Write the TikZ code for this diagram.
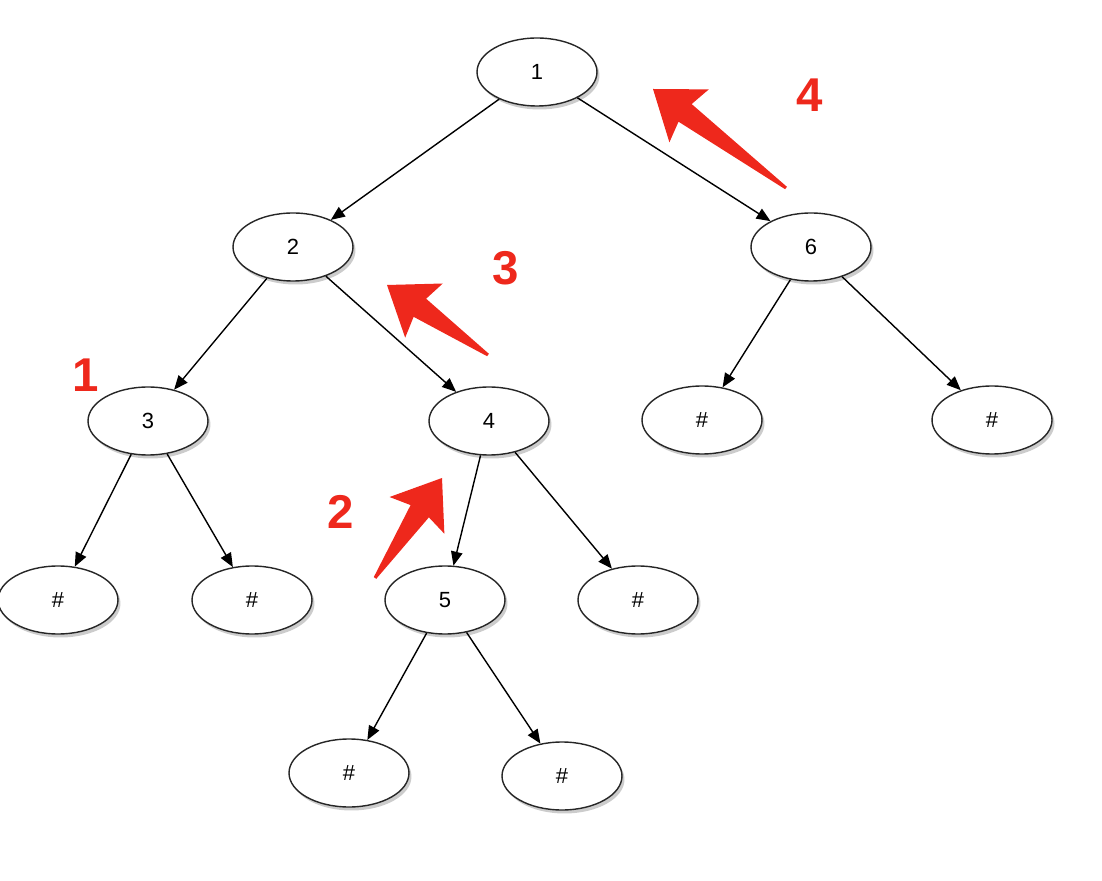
\documentclass[tikz,border=0pt]{standalone}
\usepackage{fontspec}
\setmainfont{Liberation Sans}
\usepackage{xcolor}
\usetikzlibrary{shapes.geometric,arrows.meta,calc,shadows}

\definecolor{markred}{RGB}{238,40,28}

% tapered red pointer from #1 (tail) to #2 (tip)
\newcommand{\redarrow}[2]{%
  \fill[markred] ($(#1)!0.03cm!90:(#2)$) -- ($($(#2)!0.8cm!(#1)$)!0.22cm!90:(#2)$)
    -- ($($(#2)!0.9cm!(#1)$)!0.66cm!90:(#2)$) -- (#2)
    -- ($($(#2)!0.9cm!(#1)$)!0.66cm!-90:(#2)$) -- ($($(#2)!0.8cm!(#1)$)!0.22cm!-90:(#2)$)
    -- ($(#1)!0.03cm!-90:(#2)$) -- cycle;}

\begin{document}
\begin{tikzpicture}[x=0.02cm, y=-0.02cm,
    tnode/.style={ellipse, draw=black!85, thick, fill=white, minimum width=2.4cm, minimum height=1.36cm,
      font=\fontsize{12.5}{14}\selectfont, drop shadow={opacity=0.4, shadow xshift=0.05cm, shadow yshift=-0.07cm}},
    edge/.style={-{Triangle[length=2.8mm, width=2.3mm]}, thick},
    marknum/.style={text=markred, font=\fontsize{27}{30}\selectfont\bfseries}
  ]
    \useasboundingbox (0,0) rectangle (1102,881);

    \node[tnode] (n1) at (537,72) {1};
    \node[tnode] (n2) at (293,247) {2};
    \node[tnode] (n6) at (811,247) {6};
    \node[tnode] (n3) at (148,421) {3};
    \node[tnode] (n4) at (489,421) {4};
    \node[tnode] (h61) at (702,420) {\#};
    \node[tnode] (h62) at (992,420) {\#};
    \node[tnode] (h31) at (58,600) {\#};
    \node[tnode] (h32) at (252,600) {\#};
    \node[tnode] (n5) at (445,600) {5};
    \node[tnode] (h42) at (638,600) {\#};
    \node[tnode] (h51) at (349,773) {\#};
    \node[tnode] (h52) at (562,776) {\#};

    \draw[edge] (n1) -- (n2);
    \draw[edge] (n1) -- (n6);
    \draw[edge] (n2) -- (n3);
    \draw[edge] (n2) -- (n4);
    \draw[edge] (n6) -- (h61);
    \draw[edge] (n6) -- (h62);
    \draw[edge] (n3) -- (h31);
    \draw[edge] (n3) -- (h32);
    \draw[edge] (n4) -- (n5);
    \draw[edge] (n4) -- (h42);
    \draw[edge] (n5) -- (h51);
    \draw[edge] (n5) -- (h52);

    % visiting order
    \coordinate (p2tail) at (375,578);
    \coordinate (p2tip) at (442,478);
    \coordinate (p3tail) at (488,355);
    \coordinate (p3tip) at (387,285);
    \coordinate (p4tail) at (786,188);
    \coordinate (p4tip) at (653,89);
    \redarrow{p2tail}{p2tip}
    \redarrow{p3tail}{p3tip}
    \redarrow{p4tail}{p4tip}

    \node[marknum] (m1) at (86,375) {1};
    \node[marknum] (m2) at (341,512) {2};
    \node[marknum] (m3) at (506,268) {3};
    \node[marknum] (m4) at (810,95) {4};
  \end{tikzpicture}
\end{document}
